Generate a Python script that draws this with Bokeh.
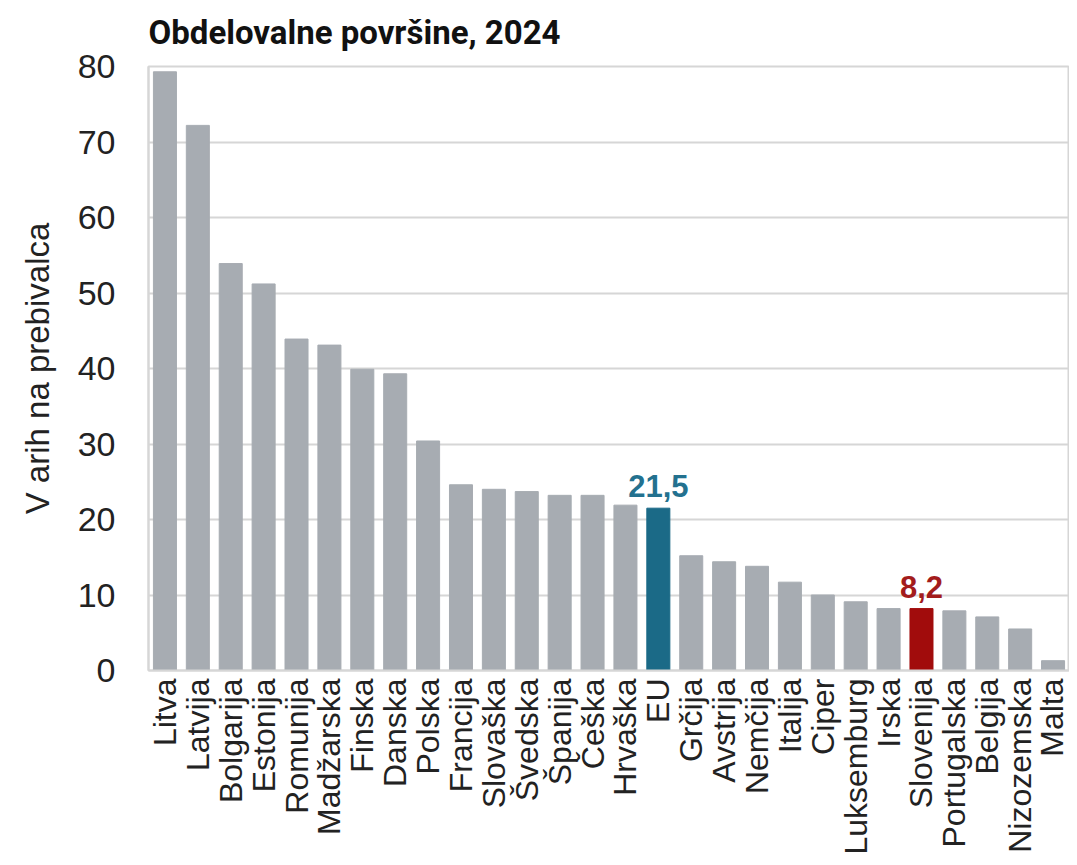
from bokeh.plotting import figure
from bokeh.models import ColumnDataSource, FactorRange, Range1d, SingleIntervalTicker
from bokeh.embed import file_html
from bokeh.resources import INLINE
from bokeh.core.properties import value
import math

title_text = "Obdelovalne površine, 2024"
countries = ["Litva", "Latvija", "Bolgarija", "Estonija", "Romunija", "Madžarska", "Finska",
             "Danska", "Polska", "Francija", "Slovaška", "Švedska", "Španija", "Češka", "Hrvaška",
             "EU", "Grčija", "Avstrija", "Nemčija", "Italija", "Ciper", "Luksemburg", "Irska",
             "Slovenija", "Portugalska", "Belgija", "Nizozemska", "Malta"]
values = [79.3, 72.2, 53.9, 51.2, 43.9, 43.1, 39.9, 39.3, 30.4, 24.6, 24.0, 23.7, 23.2, 23.2, 21.9,
          21.5, 15.2, 14.4, 13.8, 11.7, 10.0, 9.1, 8.2, 8.2, 7.9, 7.1, 5.5, 1.3]
highlight = {"EU": "#1b6a87", "Slovenija": "#a10c0c"}
labels_shown = {"EU": "21,5", "Slovenija": "8,2"}
label_colors = {"EU": "#23718f", "Slovenija": "#a31c1c"}

base_color = "#a7acb2"
colors = [highlight.get(c, base_color) for c in countries]

src = ColumnDataSource(dict(x=countries, top=values, color=colors))

p = figure(x_range=FactorRange(*countries, range_padding=0), y_range=Range1d(0, 80),
           width=1069, height=857, output_backend="svg", toolbar_location=None,
           min_border_left=148, min_border_right=0, min_border_top=66, min_border_bottom=184,
           title=title_text)

p.vbar(x="x", top="top", width=0.7, color="color", source=src)

lx = [c for c in countries if c in labels_shown]
ly = [values[countries.index(c)] for c in lx]
lt = [labels_shown[c] for c in lx]
lc = [label_colors[c] for c in lx]
p.text(x=lx, y=ly, text=lt, text_color=lc, text_align="center", text_baseline="bottom",
       y_offset=-11, text_font=value("Liberation Sans"), text_font_style="bold",
       text_font_size="31px")

p.title.text_font = "Roboto"
p.title.text_font_style = "bold"
p.title.text_font_size = "33px"
p.title.text_color = "#111111"
p.title.align = "left"
p.title.vertical_align = "top"
p.title.standoff = 25

p.outline_line_color = "#d6d6d6"
p.outline_line_width = 2
p.xgrid.grid_line_color = None
p.ygrid.grid_line_color = "#d6d6d6"
p.ygrid.grid_line_width = 2

p.yaxis.ticker = SingleIntervalTicker(interval=10)
p.yaxis.axis_label = "V arih na prebivalca"
p.yaxis.axis_label_text_font = "Liberation Sans"
p.yaxis.axis_label_text_font_style = "normal"
p.yaxis.axis_label_text_font_size = "33px"
p.yaxis.axis_label_text_color = "#222222"
p.yaxis.axis_label_standoff = 19
p.yaxis.major_label_text_font = "Liberation Sans"
p.yaxis.major_label_text_font_size = "34px"
p.yaxis.major_label_text_color = "#222222"
p.yaxis.major_label_standoff = 29
p.yaxis.major_tick_out = 0
p.yaxis.major_tick_in = 0
p.yaxis.major_tick_line_color = None
p.yaxis.minor_tick_line_color = None
p.yaxis.axis_line_color = "#d6d6d6"
p.yaxis.axis_line_width = 2

p.xaxis.major_label_orientation = math.pi / 2
p.xaxis.major_label_text_font = "Liberation Sans"
p.xaxis.major_label_text_font_size = "32px"
p.xaxis.major_label_text_color = "#222222"
p.xaxis.major_label_standoff = 8
p.xaxis.major_tick_out = 0
p.xaxis.major_tick_in = 0
p.xaxis.major_tick_line_color = None
p.xaxis.axis_line_color = "#d6d6d6"
p.xaxis.axis_line_width = 2

p.background_fill_color = "white"
p.border_fill_color = "white"

open("out.html", "w").write(file_html(p, INLINE))
